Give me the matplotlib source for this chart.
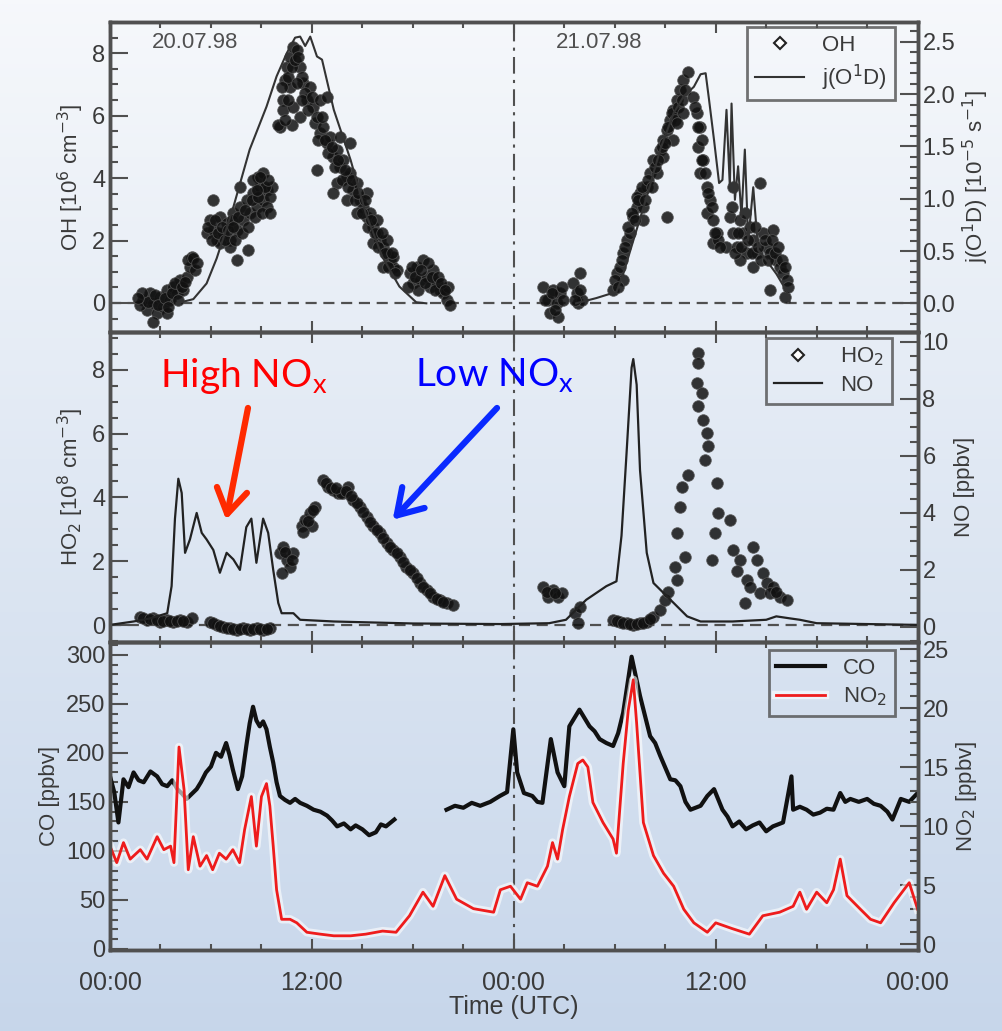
import numpy as np
import matplotlib
matplotlib.use("Agg")
import matplotlib.pyplot as plt
from matplotlib.lines import Line2D
from matplotlib.ticker import MultipleLocator, FormatStrFormatter
import matplotlib.patheffects as pe

# ---- data (hours since 20.07.98 00:00 UTC) ----

# OH scatter [10^6 cm-3]
oh_hours = [
    # 20.07 early morning
    1.98, 2.18, 2.38, 2.57, 2.77, 2.97, 3.17, 3.37, 3.56, 3.76, 3.96, 4.16, 4.36, 4.55, 4.75, 4.85, 5.05, 2.57, 1.78, 3.37,
    1.88, 2.28, 2.67, 2.87, 3.27, 3.47, 3.66, 3.86, 4.06, 4.26, 4.46, 4.65, 4.95, 5.15, 1.68,
    # morning
    5.74, 5.94, 6.14, 6.34, 6.53, 6.73, 6.93, 7.13, 7.33, 7.52, 7.72, 7.92, 8.12, 8.32, 8.51, 8.71, 8.91, 9.11, 9.31, 9.50,
    8.81, 9.11, 6.14, 7.52, 8.22, 7.13, 6.53, 7.72, 8.51, 9.31, 9.60,
    5.84, 6.04, 6.24, 6.44, 6.63, 6.83, 7.03, 7.23, 7.43, 7.62, 7.82, 8.02, 8.22, 8.42, 8.61, 8.81, 9.01, 9.21, 9.41,
    8.71, 8.91, 9.50, 7.33,
    # noon
    10.10, 10.30, 10.40, 10.50, 10.69, 10.89, 11.09, 11.29, 11.49, 11.68, 10.69, 10.30, 10.89, 11.29, 11.88, 12.08, 10.00, 10.79, 12.28,
    10.20, 10.59, 10.79, 10.99, 11.19, 11.39, 11.58, 11.09, 10.59, 11.39, 11.78, 11.98, 12.18, 10.40,
    # afternoon
    12.28, 12.48, 12.67, 12.87, 13.07, 13.27, 13.47, 13.66, 13.86, 14.06, 14.26, 14.46, 14.65, 14.85, 15.05, 15.25, 15.45, 15.64,
    15.84, 16.04, 16.24, 16.44, 16.63, 16.83, 17.03, 13.47, 13.27, 13.66, 14.26, 14.06, 14.65, 15.25, 15.84, 12.48, 12.87, 15.64,
    16.44, 16.83, 16.24,
    12.38, 12.57, 12.77, 12.97, 13.17, 13.37, 13.56, 13.76, 13.96, 14.16, 14.36, 14.55, 14.75, 14.95, 15.15, 15.35, 15.54,
    15.74, 15.94, 16.14, 16.34, 16.53, 16.73, 16.93,
    # evening
    17.82, 18.02, 18.22, 18.42, 18.61, 18.81, 19.01, 19.21, 19.41, 19.60, 19.80, 20.00, 20.20, 18.32, 18.91, 17.72, 20.10,
    17.92, 18.12, 18.51, 18.71, 19.11, 19.31, 19.50, 19.70, 19.90,
    # 21.07 early morning
    25.75, 26.04, 26.14, 26.34, 26.54, 26.74, 26.64, 26.93, 27.53, 27.73, 27.93, 27.83, 28.03,
    25.85, 26.24, 26.44, 26.84, 27.63, 27.93,
    # morning rise
    29.91, 30.11, 30.30, 30.50, 30.70, 30.90, 31.10, 31.30, 31.49, 31.69, 31.89, 31.69, 32.09, 32.29, 32.49, 32.68, 32.88, 33.08,
    33.28, 33.48, 33.68, 33.87, 34.07, 34.37, 33.48, 32.88, 31.30, 33.08, 30.50,
    30.01, 30.20, 30.40, 30.60, 30.80, 31.00, 31.20, 31.39, 31.59, 31.79, 31.99, 32.19, 32.39, 32.58, 32.78, 32.98, 33.18,
    33.38, 33.58, 33.77, 33.97, 34.17, 34.07, 33.68,
    # decline
    34.66, 34.86, 35.06, 34.96, 35.26, 35.06, 35.46, 35.65, 35.46, 35.85, 36.05, 35.85, 36.15, 36.64,
    34.76, 34.96, 35.16, 35.16, 35.36, 35.56, 35.75, 35.95, 36.25,
    # afternoon
    36.84, 37.04, 37.24, 37.44, 37.63, 37.83, 38.03, 38.23, 38.43, 38.62, 38.82, 39.02, 39.22, 39.42, 39.61, 39.81, 40.01, 40.21,
    40.11, 39.22, 37.44, 38.23, 37.04,
    36.94, 37.14, 37.34, 37.53, 37.73, 37.93, 38.13, 38.33, 38.52, 38.72, 38.92, 39.12, 39.32, 39.51, 39.71, 39.91, 40.11, 40.31,
]
oh_values = [
    0.10, -0.22, 0.31, -0.01, -0.33, 0.20, -0.12, 0.42, 0.10, 0.52, 0.31, 0.74, 0.42, 0.84, 1.16, 1.48, 1.06, -0.60, -0.06, -0.33,
    0.31, 0.04, 0.26, -0.06, 0.15, -0.12, 0.31, 0.63, 0.10, 0.52, 0.68, 1.38, 1.43, 1.27, 0.15,
    2.23, 2.66, 2.34, 2.02, 2.76, 2.23, 2.55, 2.02, 2.87, 2.34, 3.08, 2.66, 3.30, 2.87, 3.51, 3.08, 3.72, 3.30, 3.62, 3.40,
    4.04, 4.15, 3.30, 1.38, 1.70, 1.80, 1.91, 3.72, 3.94, 3.08, 3.72,
    2.44, 2.02, 2.66, 2.23, 2.44, 2.02, 2.34, 2.66, 2.02, 2.76, 2.23, 2.98, 2.44, 3.30, 2.76, 3.40, 2.87, 3.72, 3.94,
    3.62, 4.04, 2.87, 2.44,
    5.64, 6.50, 7.14, 7.56, 7.88, 8.20, 8.10, 7.56, 7.03, 6.50, 6.92, 6.18, 6.28, 5.96, 6.92, 6.28, 5.70, 5.70, 4.26,
    6.92, 7.24, 7.56, 7.78, 7.88, 7.24, 6.71, 7.03, 6.50, 6.50, 6.18, 6.60, 5.75, 5.86,
    5.96, 5.43, 5.64, 5.11, 5.32, 4.68, 4.90, 4.36, 4.58, 4.04, 4.15, 3.62, 3.83, 3.30, 3.08, 2.76, 2.87, 2.44,
    2.23, 2.02, 1.80, 1.59, 1.38, 1.16, 1.06, 3.83, 3.51, 5.32, 5.11, 3.30, 2.87, 3.51, 2.66, 6.50, 6.60, 1.91,
    2.02, 1.48, 1.16,
    5.22, 5.96, 5.22, 4.79, 5.00, 4.36, 4.58, 3.94, 4.26, 3.72, 3.94, 3.30, 3.51, 2.87, 3.30, 2.44, 2.66,
    2.23, 1.80, 2.23, 1.59, 1.16, 1.59, 0.95,
    0.95, 0.63, 1.16, 0.74, 1.38, 0.84, 0.52, 1.06, 0.63, 0.42, 0.31, 0.10, -0.06, 0.42, 1.27, 0.52, 0.52,
    1.16, 0.84, 1.06, 0.63, 0.84, 0.42, 0.84, 0.63, 0.42,
    0.52, 0.10, -0.33, 0.42, -0.01, 0.31, -0.44, 0.10, 0.63, 0.31, 0.95, -0.01, 0.10,
    0.10, 0.31, -0.22, 0.52, 0.10, 0.42,
    0.42, 0.95, 1.16, 1.59, 2.02, 2.23, 2.76, 3.08, 3.51, 3.08, 3.72, 2.66, 4.15, 4.58, 4.15, 4.90, 5.22, 5.54,
    5.86, 6.18, 6.50, 6.82, 7.14, 7.40, 5.22, 4.68, 3.40, 2.76, 0.74,
    0.74, 0.52, 1.38, 1.80, 2.44, 2.87, 2.66, 3.30, 3.72, 3.30, 3.94, 3.72, 4.36, 4.58, 5.00, 5.11, 5.64,
    6.07, 5.86, 6.28, 6.50, 6.82, 6.07, 5.75,
    6.60, 6.07, 5.64, 5.00, 4.58, 4.15, 3.72, 3.30, 2.87, 2.66, 2.23, 1.91, 2.02, 1.80,
    6.28, 5.64, 5.22, 4.58, 4.15, 3.51, 3.08, 2.23, 1.80,
    2.76, 2.23, 1.80, 2.66, 2.23, 1.59, 2.44, 2.02, 1.59, 3.83, 2.23, 1.80, 1.59, 2.34, 1.38, 1.16, 0.95, 0.74,
    0.20, 0.42, 1.38, 1.16, 3.72,
    3.08, 1.59, 2.23, 1.80, 2.87, 2.02, 1.59, 2.44, 1.80, 1.38, 2.02, 1.38, 2.02, 1.59, 1.80, 1.38, 1.16, 0.52,
]

# j(O1D) photolysis frequency [10^-5 s-1]
j_hours = [3.96, 4.95, 5.74, 6.34, 7.33, 8.30, 9.30, 9.90, 10.50, 11.00, 11.30, 11.60, 11.90, 12.30, 12.60, 13.30, 14.30,
           15.20, 16.20, 17.20, 18.20, 18.80, np.nan,
           27.70, 28.90, 30.10, 30.50, 31.10, 31.90, 32.70, 33.50, 34.10, 34.70, 35.10, 35.40, 35.60, 35.90, 36.20, 36.40,
           36.64, 36.84, 36.94, 37.14, 37.33, 37.53, 37.73, 37.93, 38.23, 38.52, 39.02, 39.61, 40.20, 40.40]
j_values = [0.00, 0.04, 0.19, 0.43, 0.92, 1.47, 1.88, 2.17, 2.39, 2.54, 2.55, 2.46, 2.55, 2.36, 2.33, 1.85, 1.37,
            0.86, 0.44, 0.16, 0.01, 0.00, np.nan,
            0.00, 0.05, 0.11, 0.28, 0.60, 1.02, 1.47, 1.82, 1.98, 2.07, 2.19, 2.20, 1.95, 1.56, 1.15, 1.18,
            1.85, 1.11, 1.91, 0.99, 1.31, 0.83, 1.47, 0.60, 1.11, 0.51, 0.41, 0.28, 0.12, 0.01]

# HO2 scatter [10^8 cm-3]
ho2_hours = [
    1.78, 2.18, 2.57, 2.97, 3.37, 3.76, 4.16, 4.55, 4.85, 1.98, 2.38, 2.77, 3.17, 3.56, 3.96, 4.36,
    5.94, 6.34, 6.73, 7.13, 7.52, 7.92, 8.32, 8.71, 9.11, 9.50, 6.14, 6.53, 6.93, 7.33, 7.72, 8.12, 8.51, 8.91, 9.31,
    10.10, 10.30, 10.50, 10.69, 10.89, 10.20, 10.40, 10.79,
    11.39, 11.58, 11.88, 12.18, 11.98, 11.49, 11.78, 12.08,
    12.67, 12.97, 13.27, 13.56, 13.86, 14.16, 14.46, 14.85, 15.25, 15.64, 16.04, 16.44, 16.83, 17.23, 17.62, 18.02,
    18.42, 18.81, 19.21, 19.60, 20.00, 20.40, 12.82, 13.12, 13.71, 14.66, 15.05, 15.45, 15.84, 16.24, 16.63, 17.03,
    17.43, 17.82, 18.22, 18.61, 19.01, 19.41, 19.80, 13.42, 14.01, 14.31,
    25.75, 26.04, 26.34, 26.64, 26.84, 25.95, 26.44, 27.63, 27.83, 27.93,
    29.91, 30.30, 30.70, 31.10, 31.49, 31.89, 32.29, 32.68, 32.98, 33.18, 30.11, 30.50, 30.90, 31.30, 31.69, 32.09,
    33.68, 33.57, 33.68, 34.17, 33.87, 33.97, 34.37,
    34.96, 34.96, 34.86, 35.16, 34.96, 35.26, 35.46, 35.56, 35.36,
    36.05, 36.15, 35.95, 35.75, 36.84,
    37.04, 37.44, 37.83, 37.73, 38.23, 38.43, 38.82, 39.02, 39.42, 39.81, 40.21, 38.62, 38.03, 37.24, 39.22, 39.61,
]
ho2_values = [
    0.26, 0.16, 0.21, 0.10, 0.16, 0.10, 0.16, 0.10, 0.21, 0.22, 0.18, 0.15, 0.13, 0.14, 0.12, 0.14,
    0.10, 0.00, -0.05, -0.10, -0.16, -0.10, -0.16, -0.10, -0.16, -0.10, 0.05, -0.03, -0.08, -0.13, -0.13, -0.13, -0.13, -0.13, -0.13,
    2.25, 2.46, 2.04, 1.83, 2.25, 1.62, 2.30, 2.05,
    3.09, 3.30, 3.50, 3.71, 3.09, 2.90, 3.25, 3.60,
    4.55, 4.34, 4.24, 4.13, 4.13, 4.34, 3.92, 3.71, 3.40, 3.09, 2.88, 2.56, 2.35, 2.14, 1.83, 1.62,
    1.31, 1.10, 0.89, 0.78, 0.68, 0.63, 4.45, 4.29, 4.13, 3.81, 3.55, 3.24, 2.98, 2.72, 2.46, 2.25,
    1.98, 1.72, 1.46, 1.20, 1.00, 0.83, 0.73, 4.30, 4.20, 4.05,
    1.20, 0.89, 1.10, 0.89, 0.99, 1.05, 1.00, 0.37, 0.05, 0.58,
    0.16, 0.10, 0.05, 0.00, 0.05, 0.10, 0.26, 0.47, 0.78, 1.05, 0.13, 0.08, 0.03, 0.03, 0.08, 0.18,
    1.41, 1.83, 2.88, 2.14, 3.71, 4.34, 4.71,
    8.52, 8.21, 7.58, 7.27, 6.85, 6.43, 6.01, 5.60, 5.18,
    4.45, 3.50, 2.88, 2.04, 3.30,
    2.35, 2.04, 1.41, 0.68, 2.46, 2.04, 1.62, 1.31, 1.20, 0.89, 0.78, 0.99, 1.20, 1.70, 1.00, 1.05,
]

# NO [ppbv]
no_hours = [0.0, 1.4, 2.4, 3.4, 3.66, 3.86, 4.06, 4.26, 4.46, 4.75, 5.15, 5.45, 5.74, 6.14, 6.53, 6.93, 7.33, 7.72, 8.1,
            8.4, 8.7, 9.1, 9.4, 9.7, 10.0, 10.2, 10.9, 11.3, 13.3, 18.0, 23.2, 26.1, 27.1, 27.7, 28.3, 28.9, 29.5, 30.1,
            30.4, 30.7, 31.0, 31.1, 31.3, 31.5, 31.9, 32.3, 32.9, 33.5, 34.3, 35.1, 37.0, 39.0, 39.6, 40.4, 41.0, 42.0, 48.0]
no_values = [0.07, 0.19, 0.30, 0.48, 1.43, 3.8, 5.2, 4.7, 2.6, 3.07, 4.0, 3.3, 3.07, 2.7, 1.9, 2.6, 2.37, 2.0, 3.5,
             3.8, 2.25, 3.8, 3.3, 2.0, 0.84, 0.48, 0.48, 0.25, 0.19, 0.12, 0.10, 0.13, 0.25, 0.6, 0.95, 1.19, 1.43, 1.6,
             3.2, 6.1, 9.1, 9.4, 8.5, 5.5, 2.6, 1.54, 1.19, 0.84, 0.37, 0.19, 0.19, 0.25, 0.37, 0.30, 0.25, 0.13, 0.07]

# CO [ppbv]
co_hours = [0.0, 0.25, 0.5, 0.8, 1.1, 1.4, 1.7, 2.0, 2.4, 2.8, 3.1, 3.4, 3.7, 4.0, 4.3, 4.55, 4.85, 5.15, 5.4, 5.7, 6.0,
            6.3, 6.6, 6.9, 7.1, 7.3, 7.6, 7.85, 8.1, 8.3, 8.5, 8.7, 8.9, 9.1, 9.3, 9.5, 9.7, 9.9, 10.1, 10.4,
            10.7, 11.0, 11.3, 11.7, 12.1, 12.5, 12.9, 13.2, 13.5, 13.9, 14.3, 14.6, 15.0, 15.4, 15.8, 16.1, 16.4, 16.9, np.nan,
            20.0, 20.5, 21.0, 21.5, 22.0, 22.6, 23.17, 23.6, 23.97, 24.2, 24.6, 25.1, 25.4, 25.7, 26.2, 26.6, 27.0, 27.3,
            27.9, 28.5, 28.8, 29.1, 29.5, 29.9, 30.2, 30.5, 31.0, 31.5, 32.1, 32.4, 32.7, 33.0, 33.3, 33.6, 33.9, 34.2,
            34.5, 35.1, 35.5, 35.9, 36.4, 36.7, 37.0, 37.4, 37.8, 38.2, 38.6, 39.0, 39.4, 40.0, 40.5, 40.6, 41.0, 41.4,
            41.8, 42.2, 42.6, 43.0, 43.4, 43.7, 44.0, 44.5, 45.0, 45.4, 45.8, 46.2, 46.5, 47.0, 47.5, 48.0]
co_values = [176, 160, 129, 173, 165, 180, 172, 170, 181, 176, 168, 166, 172, 163, 158, 153, 158, 163, 170, 180, 186,
             200, 196, 210, 198, 183, 163, 176, 207, 230, 247, 233, 227, 232, 224, 206, 190, 170, 156, 152,
             149, 153, 149, 146, 142, 140, 136, 131, 125, 128, 122, 126, 122, 116, 119, 127, 125, 132, np.nan,
             142, 146, 144, 149, 146, 150, 156, 160, 224, 180, 159, 156, 150, 149, 214, 180, 166, 227,
             244, 227, 222, 214, 210, 207, 220, 241, 298, 258, 217, 210, 197, 185, 173, 172, 166, 150,
             142, 146, 156, 163, 142, 135, 125, 130, 122, 126, 129, 120, 125, 129, 176, 142, 145, 142,
             137, 139, 143, 142, 159, 150, 153, 150, 153, 148, 146, 140, 132, 153, 150, 159]

# NO2 [ppbv]
no2_hours = [0.0, 0.4, 0.8, 1.2, 1.8, 2.2, 2.8, 3.2, 3.6, 3.8, 4.1, 4.4, 4.65, 4.95, 5.35, 5.74, 6.1, 6.5, 6.9, 7.3, 7.7,
             8.0, 8.4, 8.7, 9.0, 9.3, 9.5, 9.7, 9.9, 10.2, 10.7, 11.1, 11.7, 12.5, 13.3, 14.3, 15.2, 16.2, 17.0, 17.8,
             18.6, 19.2, 19.9, 20.6, 21.6, 22.8, 23.2, 23.8, 24.4, 24.8, 25.4, 26.0, 26.3, 26.6, 26.9, 27.3, 27.8, 28.1,
             28.4, 28.7, 29.3, 29.9, 30.1, 30.5, 30.8, 31.1, 31.3, 31.7, 32.3, 32.9, 33.5, 34.1, 34.7, 35.5, 36.0, 37.0,
             38.0, 38.8, 39.8, 40.6, 41.0, 41.4, 42.0, 42.6, 43.0, 43.4, 43.8, 44.6, 45.2, 45.8, 46.6, 47.5, 48.0]
no2_values = [8.3, 6.9, 8.6, 7.2, 8.0, 7.2, 9.1, 8.0, 8.3, 6.9, 16.7, 13.1, 6.3, 9.1, 6.6, 7.5, 6.3, 7.7, 7.2, 8.0, 6.9,
              9.7, 12.5, 8.3, 12.5, 13.6, 11.7, 8.3, 4.6, 2.1, 2.1, 1.8, 1.0, 0.84, 0.7, 0.7, 0.84, 1.1, 1.0, 2.4,
              4.4, 3.2, 5.8, 3.8, 3.0, 2.7, 4.6, 4.9, 3.8, 5.2, 4.9, 6.6, 8.6, 7.2, 9.7, 12.5, 15.3, 15.6,
              15.0, 12.0, 10.3, 8.9, 7.7, 15.3, 19.8, 22.4, 18.7, 10.3, 7.5, 6.0, 4.9, 2.95, 1.8, 1.0, 1.8, 1.3,
              0.84, 2.4, 2.7, 3.2, 4.4, 2.95, 4.4, 3.5, 4.6, 7.2, 4.1, 2.95, 2.1, 1.8, 3.5, 5.2, 2.95]

time_ticks = [0, 12, 24, 36, 48]
time_labels = ["00:00", "12:00", "00:00", "12:00", "00:00"]

# ---- style ----
GREY = "#505050"
TXT = "#3a3a3a"
plt.rcParams["font.family"] = ["Liberation Sans", "DejaVu Sans"]
plt.rcParams["font.size"] = 16

fig = plt.figure(figsize=(10.02, 10.31), dpi=100)

# light blue background gradient
bg = fig.add_axes([0, 0, 1, 1], zorder=-10)
top_col = np.array([0.965, 0.973, 0.985])
bot_col = np.array([0.78, 0.84, 0.92])
frac = np.linspace(0, 1, 256)[:, None, None]
grad = np.repeat(top_col * (1 - frac) + bot_col * frac, 2, axis=1)
bg.imshow(grad, aspect="auto", extent=[0, 1, 0, 1])
bg.axis("off")

L, W = 0.1098, 0.806
ax1 = fig.add_axes([L, 0.678, W, 0.3007])
ax2 = fig.add_axes([L, 0.3773, W, 0.3007])
ax3 = fig.add_axes([L, 0.0786, W, 0.2987])
ax1r, ax2r, ax3r = ax1.twinx(), ax2.twinx(), ax3.twinx()


def style_axes(ax, axr, left_major, left_minor, right_major, right_minor):
    ax.set_facecolor("none")
    axr.set_facecolor("none")
    ax.set_xlim(0, 48)
    ax.set_xticks(time_ticks)
    ax.xaxis.set_minor_locator(MultipleLocator(3))
    for a in (ax, axr):
        for s in a.spines.values():
            s.set_color(GREY)
            s.set_linewidth(2.5)
    ax.tick_params(axis="x", which="both", direction="in", top=True, color=GREY, width=1.5, labelcolor=TXT)
    ax.tick_params(axis="x", which="major", length=8)
    ax.tick_params(axis="x", which="minor", length=4)
    ax.yaxis.set_major_locator(MultipleLocator(left_major))
    ax.yaxis.set_minor_locator(MultipleLocator(left_minor))
    axr.yaxis.set_major_locator(MultipleLocator(right_major))
    axr.yaxis.set_minor_locator(MultipleLocator(right_minor))
    for a in (ax, axr):
        a.tick_params(axis="y", which="both", direction="in", color=GREY, width=1.5, labelcolor=TXT, labelsize=17)
        a.tick_params(axis="y", which="major", length=13)
        a.tick_params(axis="y", which="minor", length=6)
    ax.axvline(24, color=GREY, lw=1.5, ls=(0, (8, 3, 1.5, 3)), zorder=1)


style_axes(ax1, ax1r, 2, 0.5, 0.5, 0.1)
style_axes(ax2, ax2r, 2, 0.5, 2, 0.5)
style_axes(ax3, ax3r, 50, 10, 5, 1)
for ax in (ax1, ax2):
    ax.tick_params(axis="x", labelbottom=False)
ax3.set_xticklabels(time_labels)
ax3.tick_params(axis="x", labelsize=18, pad=15)
ax3.set_xlabel("Time (UTC)", color=TXT, fontsize=18, labelpad=0)

dot_kw = dict(s=70, color="#111111", edgecolors="#555555", linewidths=0.6, alpha=0.85, zorder=3)
leg_kw = dict(loc="upper right", borderaxespad=0, fancybox=False, edgecolor=GREY, facecolor="none",
              fontsize=16, labelcolor=TXT, handlelength=2.2, borderpad=0.35, labelspacing=0.3)

# ---- panel 1: OH and j(O1D) ----
ax1.axhline(0, color=GREY, lw=1.6, ls=(0, (5, 3)), zorder=1)
ax1.scatter(oh_hours, oh_values, **dot_kw)
ax1r.plot(j_hours, j_values, color="#333333", lw=1.5)
ax1.set_ylim(-0.93, 9.0)
ax1r.set_ylim(-0.274, 2.69)
ax1r.yaxis.set_major_formatter(FormatStrFormatter("%.1f"))
ax1.set_ylabel("OH [10$^6$ cm$^{-3}$]", color=TXT, fontsize=16)
ax1r.set_ylabel("j(O$^1$D) [10$^{-5}$ s$^{-1}$]", color=TXT, fontsize=16)
ax1.text(2.5, 8.35, "20.07.98", color=GREY, fontsize=16, va="center")
ax1.text(26.5, 8.35, "21.07.98", color=GREY, fontsize=16, va="center")
h1 = [Line2D([], [], ls="none", marker="D", ms=6, mfc="white", mec="#222222", mew=1.5),
      Line2D([], [], color="#333333", lw=1.5)]
leg1 = ax1r.legend(h1, ["OH", "j(O$^1$D)"], bbox_to_anchor=(0.9715, 0.984), **leg_kw)
leg1.get_frame().set_linewidth(2)

# ---- panel 2: HO2 and NO ----
ax2.axhline(0, color=GREY, lw=1.6, ls=(0, (5, 3)), zorder=1)
ax2.scatter(ho2_hours, ho2_values, **dot_kw)
ax2r.plot(no_hours, no_values, color="#222222", lw=1.6)
ax2.set_ylim(-0.53, 9.18)
ax2r.set_ylim(-0.53, 10.35)
ax2.set_ylabel("HO$_2$ [10$^8$ cm$^{-3}$]", color=TXT, fontsize=16)
ax2r.set_ylabel("NO [ppbv]", color=TXT, fontsize=16)
h2 = [Line2D([], [], ls="none", marker="D", ms=6, mfc="white", mec="#222222", mew=1.5),
      Line2D([], [], color="#222222", lw=1.6)]
leg2 = ax2r.legend(h2, ["HO$_2$", "NO"], bbox_to_anchor=(0.968, 0.981), **leg_kw)
leg2.get_frame().set_linewidth(2)

# annotations
ann_font = ["Lato", "DejaVu Sans"]
ax2r.text(2.97, 7.46, "High NO$_{\\mathregular{x}}$", transform=ax2.transData, color="#ff0000", fontsize=28,
          family=ann_font, va="baseline", zorder=6)
ax2r.text(18.1, 7.46, "Low NO$_{\\mathregular{x}}$", transform=ax2.transData, color="#0000ff", fontsize=28,
          family=ann_font, va="baseline", zorder=6)
arrow_style = "->,head_length=0.8,head_width=0.5"
ax2r.annotate("", xy=(6.9, 3.3), xycoords=ax2.transData, xytext=(8.2, 6.8), textcoords=ax2.transData,
              arrowprops=dict(arrowstyle=arrow_style, color="#ff2a00", lw=4.5,
                              mutation_scale=22, shrinkA=0, shrinkB=0), zorder=6)
ax2r.annotate("", xy=(16.8, 3.3), xycoords=ax2.transData, xytext=(23.0, 6.8), textcoords=ax2.transData,
              arrowprops=dict(arrowstyle=arrow_style, color="#0a2aff", lw=4.5,
                              mutation_scale=22, shrinkA=0, shrinkB=0), zorder=6)

# ---- panel 3: CO and NO2 ----
halo = [pe.Stroke(linewidth=6, foreground="white", alpha=0.6), pe.Normal()]
ax3.plot(co_hours, co_values, color="#111111", lw=3, zorder=3)
ax3r.plot(no2_hours, no2_values, color="#ee1c1c", lw=2, path_effects=halo)
ax3.set_ylim(-1, 313)
ax3r.set_ylim(-0.5, 25.6)
ax3.set_ylabel("CO [ppbv]", color=TXT, fontsize=16)
ax3r.set_ylabel("NO$_2$ [ppbv]", color=TXT, fontsize=16)
h3 = [Line2D([], [], color="#111111", lw=3),
      Line2D([], [], color="#ee1c1c", lw=2, path_effects=halo)]
leg3 = ax3r.legend(h3, ["CO", "NO$_2$"], bbox_to_anchor=(0.9715, 0.974), **leg_kw)
leg3.get_frame().set_linewidth(2)

fig.savefig("out.png", dpi=100)
